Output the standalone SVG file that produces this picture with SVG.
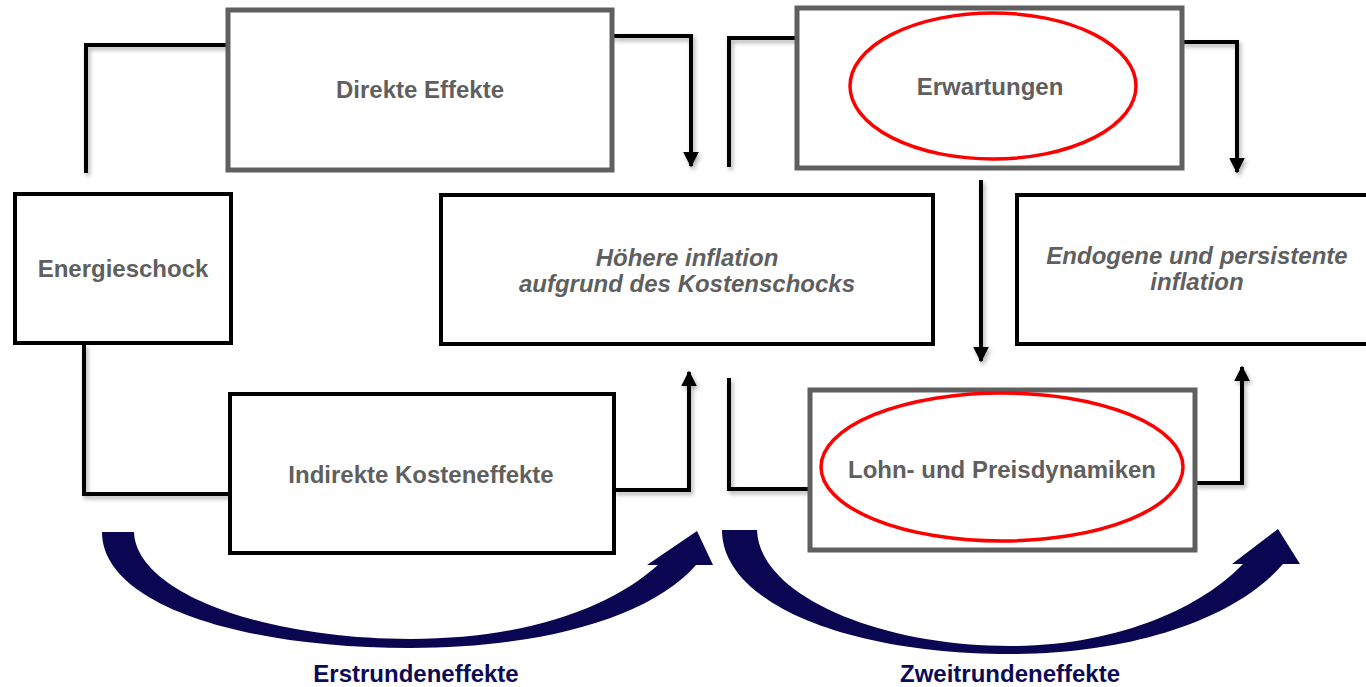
<svg xmlns="http://www.w3.org/2000/svg" width="1366" height="687" viewBox="0 0 1366 687">
<defs>
<marker id="ah" viewBox="0 0 10 10" refX="9" refY="5" markerWidth="4" markerHeight="4" markerUnits="strokeWidth" orient="auto">
<path d="M0,0 L10,5 L0,10 Z" fill="#000"/>
</marker>
<filter id="sh" x="-20%" y="-20%" width="140%" height="140%">
<feDropShadow dx="2" dy="3" stdDeviation="2" flood-color="#000" flood-opacity="0.3"/>
</filter>
<style>
.bk{fill:#fff;stroke:#000;stroke-width:4}
.gr{fill:#fff;stroke:#5f5f5f;stroke-width:5}
.ring{fill:none;stroke:#f00;stroke-width:3.5}
.t{font-family:"Liberation Sans",Arial,sans-serif;font-size:24px;font-weight:bold;fill:#5f5f5f;text-anchor:middle}
.it{font-style:italic}
.lab{font-family:"Liberation Sans",Arial,sans-serif;font-size:24px;font-weight:bold;fill:#0d0b55;text-anchor:middle}
.c{fill:none;stroke:#000;stroke-width:4;stroke-linejoin:miter}
.big{fill:#0b0652}
</style>
</defs>
<rect width="1366" height="687" fill="#fff"/>
<g id="connectors" filter="url(#sh)">
<path class="c" d="M86 173 L86 45 L228 45"/>
<path class="c" d="M612 36 L691 36 L691 166" marker-end="url(#ah)"/>
<path class="c" d="M797 38 L729 38 L729 167"/>
<path class="c" d="M1182 42 L1237 42 L1237 172" marker-end="url(#ah)"/>
<path class="c" d="M981 180 L981 361" marker-end="url(#ah)"/>
<path class="c" d="M84 344 L84 494 L230 494"/>
<path class="c" d="M614 490 L689 490 L689 372" marker-end="url(#ah)"/>
<path class="c" d="M810 489 L729 489 L729 378"/>
<path class="c" d="M1195 483 L1242 483 L1242 367" marker-end="url(#ah)"/>
</g>
<g id="direkte">
<rect class="gr" x="228" y="10" width="384" height="160"/>
<text class="t" x="420" y="98">Direkte Effekte</text>
</g>
<g id="erwartungen">
<rect class="gr" x="797" y="8" width="385" height="160"/>
<ellipse class="ring" cx="993" cy="86" rx="143" ry="73"/>
<text class="t" x="990" y="95">Erwartungen</text>
</g>
<g id="energieschock">
<rect class="bk" x="15" y="194" width="216" height="149"/>
<text class="t" x="123" y="277">Energieschock</text>
</g>
<g id="hoehere">
<rect class="bk" x="441" y="195" width="492" height="149"/>
<text class="t it" x="687" y="266">Höhere inflation</text>
<text class="t it" x="687" y="292">aufgrund des Kostenschocks</text>
</g>
<g id="endogene">
<rect class="bk" x="1017" y="195" width="360" height="149"/>
<text class="t it" x="1197" y="264">Endogene und persistente</text>
<text class="t it" x="1197" y="290">inflation</text>
</g>
<g id="indirekte">
<rect class="bk" x="230" y="394" width="384" height="159"/>
<text class="t" x="421" y="483">Indirekte Kosteneffekte</text>
</g>
<g id="lohn">
<rect class="gr" x="810" y="390" width="385" height="160"/>
<ellipse class="ring" cx="1002" cy="467" rx="181" ry="74"/>
<text class="t" x="1002" y="478">Lohn- und Preisdynamiken</text>
</g>
<g id="erstrunden">
<path class="big" d="M102 532 L134 532 C136 592 262 639 410 639 C530 639 612 606 658 565 L647 565 L697 531 L713 565 L696 565 C650 618 540 648 410 648 C240 648 102 604 102 532 Z"/>
<text class="lab" x="416" y="682">Erstrundeneffekte</text>
</g>
<g id="zweitrunden">
<path class="big" d="M722 530 L757 530 C759 596 880 646 1010 646 C1120 646 1203 606 1243 564 L1232 564 L1278 529 L1300 564 L1283 564 C1235 620 1130 654 1010 654 C850 654 722 604 722 530 Z"/>
<text class="lab" x="1010" y="682">Zweitrundeneffekte</text>
</g>
</svg>
